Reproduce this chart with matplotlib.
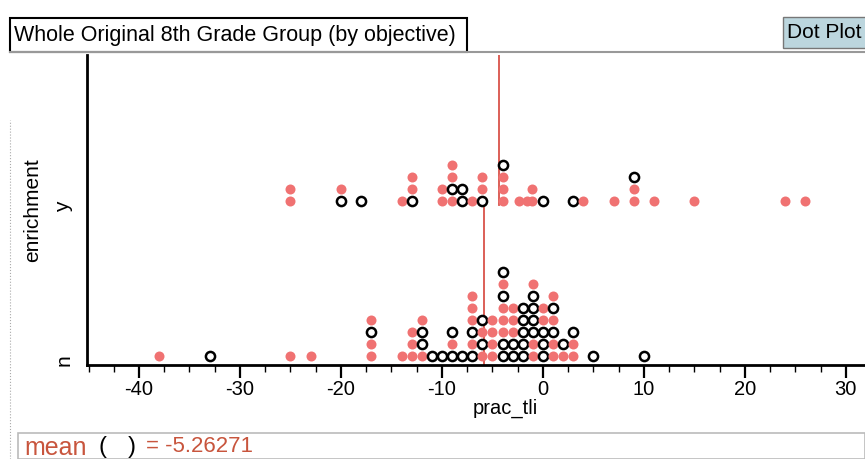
import matplotlib
matplotlib.use("Agg")
import matplotlib.pyplot as plt
from matplotlib.patches import Rectangle
from matplotlib.lines import Line2D

plt.rcParams['font.family'] = ['Liberation Sans', 'DejaVu Sans']
plt.rcParams['axes.unicode_minus'] = False

# prac_tli values and the colour stack at each value (bottom to top)
# r = filled pink dot, k = open black circle
y_vals = [-25, -20, -18, -14, -13, -10, -9, -8, -7, -6, -4, -2.4, -1.6, -1.1,
          0, 3, 4, 7, 9, 11, 15, 24, 26]
y_stacks = ["rr", "kr", "k", "r", "krr", "rr", "rkrr", "kk", "r", "krr", "rrrk",
            "r", "r", "rr", "k", "k", "r", "r", "rrk", "r", "r", "r", "r"]

n_vals = [-38, -33, -25, -23, -17, -14, -13, -12, -11, -10, -9, -8, -7, -6, -5,
          -4, -3, -2, -1, 0, 1, 2, 3, 5, 10]
n_stacks = ["r", "k", "r", "r", "rrkr", "r", "rrr", "rkkr", "k", "k", "krk", "k",
            "krkrrr", "rkrk", "rrrr", "kkrrrkrk", "kkrrr", "kkkkk", "rrkkkkr",
            "kkkrr", "rrkrkr", "rk", "rrk", "k", "k"]

y_mean = -4.3
n_mean = -5.8
overall_mean = "-5.26271"

PINK = '#f07272'

W, H = 865, 459
fig = plt.figure(figsize=(W / 100, H / 100), dpi=100)
ax = fig.add_axes([87 / W, 1 - 365 / H, (W - 87) / W, 310 / H])

# y data units are pixels above the bottom spine
base = {"y": 164, "n": 9}
step = 12


def draw_group(vals, stacks, b):
    for v, s in zip(vals, stacks):
        for i, c in enumerate(s):
            if c == "r":
                ax.plot(v, b + i * step, 'o', ms=7.2, mfc=PINK, mec=PINK, mew=0)
            else:
                ax.plot(v, b + i * step, 'o', ms=6.6, mfc='white', mec='black', mew=1.8)


draw_group(y_vals, y_stacks, base["y"])
draw_group(n_vals, n_stacks, base["n"])

# mean lines per category
ax.plot([y_mean, y_mean], [160, 310], color='#d9534a', lw=1.3, zorder=1)
ax.plot([n_mean, n_mean], [0, 165], color='#d9534a', lw=1.3, zorder=1)

ax.set_xlim(-45.15, 31.9)
ax.set_ylim(0, 310)
ax.set_xticks(range(-40, 31, 10))
ax.set_xticks([x / 2 for x in range(-90, 64, 5)], minor=True)
ax.tick_params(axis='x', which='major', length=9, width=1.6, labelsize=14.5, pad=2)
ax.tick_params(axis='x', which='minor', length=5, width=1)
ax.set_yticks([base["n"] - 4, base["y"] - 6])
ax.set_yticklabels(["n", "y"], rotation=90, fontsize=15, va='center')
ax.tick_params(axis='y', length=0, pad=10)
for sp in ['top', 'right']:
    ax.spines[sp].set_visible(False)
ax.spines['left'].set_linewidth(2)
ax.spines['bottom'].set_linewidth(2)

fig.text(505 / W, 1 - 408 / H, "prac_tli", ha='center', va='center', fontsize=14.5)
fig.text(33 / W, 1 - 210 / H, "enrichment", rotation=90, ha='center', va='center', fontsize=15)

# top border line and title box
fig.add_artist(Line2D([10 / W, 1], [1 - 52 / H, 1 - 52 / H], color='#999999', lw=1.5))
fig.add_artist(Rectangle((10 / W, 1 - 52 / H), 457 / W, 34 / H, transform=fig.transFigure,
                         fc='white', ec='black', lw=1.5))
fig.text(14 / W, 1 - 36 / H, "Whole Original 8th Grade Group (by objective)",
         ha='left', va='center', fontsize=15.5)

# "Dot Plot" button
fig.add_artist(Rectangle((783 / W, 1 - 48 / H), 90 / W, 31 / H, transform=fig.transFigure,
                         fc='#bcd6de', ec='#777777', lw=1))
fig.text(787 / W, 1 - 33 / H, "Dot Plot", ha='left', va='center', fontsize=15)

# left dotted edge
fig.add_artist(Line2D([10 / W, 10 / W], [0, 1 - 120 / H], color='#aaaaaa', lw=0.8, ls=':'))

# mean formula panel
fig.add_artist(Rectangle((18 / W, 0), (W - 18) / W, 26 / H, transform=fig.transFigure,
                         fc='white', ec='#bbbbbb', lw=1.2))
fig.text(24 / W, 1 - 448 / H, "mean", ha='left', va='center', fontsize=18, color='#c8553d')
fig.text(98 / W, 1 - 447 / H, "(", ha='left', va='center', fontsize=17, color='black')
fig.text(128 / W, 1 - 447 / H, ")", ha='left', va='center', fontsize=17, color='black')
fig.text(146 / W, 1 - 447 / H, "= " + overall_mean, ha='left', va='center', fontsize=16,
         color='#c8553d')

fig.savefig("out.png", dpi=100)
